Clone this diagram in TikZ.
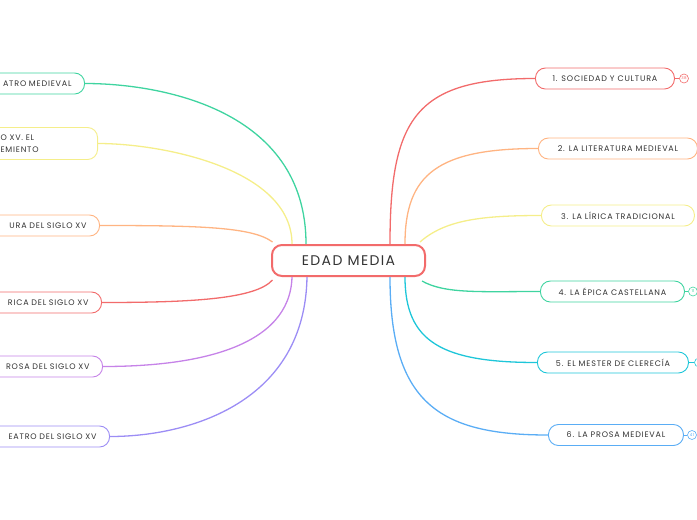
\documentclass[tikz,border=0pt]{standalone}
\usepackage{fontspec}
\setmainfont{Poppins}[LetterSpace=10]
\usetikzlibrary{positioning,calc}
\definecolor{ink}{HTML}{333333}
\definecolor{cred}{HTML}{F26B6B}
\definecolor{corange}{HTML}{FFB482}
\definecolor{cyellow}{HTML}{F5EE8A}
\definecolor{cgreen}{HTML}{3FD4A0}
\definecolor{ccyan}{HTML}{1EC6D9}
\definecolor{cblue}{HTML}{5AADF5}
\definecolor{cpurple}{HTML}{C683E8}
\definecolor{cviolet}{HTML}{9C8DF5}
\begin{document}
\begin{tikzpicture}[x=1pt,y=-1pt,font=\fontsize{8}{11.5}\selectfont,
box/.style={draw=#1,line width=0.9pt,rounded corners=10pt,fill=white,text=ink,minimum height=21pt,inner xsep=13pt},
rbox/.style={box=#1,anchor=west},
lbox/.style={box=#1,anchor=east,align=right},
link/.style={draw=#1,line width=1.3pt},
dot/.style={draw=#1,circle,line width=0.6pt,minimum size=9pt,inner sep=0pt,text=#1,font=\fontsize{4}{4}\selectfont}]
\useasboundingbox (0,0) rectangle (697,520);
% central topic
\node[box=cred,line width=2pt,minimum width=153pt,minimum height=31pt,font=\fontsize{14}{16}\selectfont] (root) at (348.5,260.5) {EDAD MEDIA};
% right branches
\node[rbox=cred,minimum width=139pt] (soc) at (535,78.5) {1. SOCIEDAD Y CULTURA};
\node[rbox=corange,minimum width=159pt] (lit) at (538,148.5) {2. LA LITERATURA MEDIEVAL};
\node[rbox=cyellow,minimum width=153pt] (lir) at (541,215.5) {3. LA LÍRICA TRADICIONAL};
\node[rbox=cgreen,minimum width=144pt] (epi) at (540,291.5) {4. LA ÉPICA CASTELLANA};
\node[rbox=ccyan,minimum width=151pt] (mes) at (537,362.5) {5. EL MESTER DE CLERECÍA};
\node[rbox=cblue,minimum width=135pt] (pro) at (548,435) {6. LA PROSA MEDIEVAL};
\node[dot=cred] (socn) at (684,78.5) {38};
\node[dot=cgreen] (epin) at (693,291.5) {11};
\node[dot=ccyan] (mesn) at (699,362.5) {};
\node[dot=cblue] (pron) at (692,435) {41};
\draw[cred,line width=0.6pt] (soc.east) -- (socn.west);
\draw[cgreen,line width=0.6pt] (epi.east) -- (epin.west);
\draw[ccyan,line width=0.6pt] (mes.east) -- (mesn.west);
\draw[cblue,line width=0.6pt] (pro.east) -- (pron.west);
% left branches
\node[lbox=cgreen,text width=85pt] (tea) at (85,83.5) {ATRO MEDIEVAL};
\node[lbox=cyellow,align=left,text width=84pt,minimum height=32pt] (pre) at (98,143.5) {O XV. EL\\EMIENTO};
\node[lbox=corange,text width=100pt] (lxv) at (100,225.5) {URA DEL SIGLO XV};
\node[lbox=cred,text width=102pt] (rxv) at (102,302.5) {RICA DEL SIGLO XV};
\node[lbox=cpurple,text width=103pt] (pxv) at (103,366.5) {ROSA DEL SIGLO XV};
\node[lbox=cviolet,text width=110pt] (txv) at (110,436.5) {EATRO DEL SIGLO XV};
% connectors
\draw[link=cred] ([xshift=41.5pt]root.north) .. controls +(0,-125) and +(-120,0) .. (soc.west);
\draw[link=corange] ([xshift=56.5pt]root.north) .. controls +(0,-70) and +(-100,0) .. (lit.west);
\draw[link=cyellow] ([xshift=71.5pt,yshift=2pt]root.north) .. controls +(25,-22) and +(-60,0) .. (lir.west);
\draw[link=cgreen] ([xshift=73.5pt,yshift=-4pt]root.south) .. controls +(23,13) and +(-60,0) .. (epi.west);
\draw[link=ccyan] ([xshift=56.5pt]root.south) .. controls +(0,65) and +(-95,0) .. (mes.west);
\draw[link=cblue] ([xshift=41.5pt]root.south) .. controls +(0,125) and +(-110,0) .. (pro.west);
\draw[link=cgreen] ([xshift=-42.5pt]root.north) .. controls +(0,-135) and +(75,0) .. (tea.east);
\draw[link=cyellow] ([xshift=-56.5pt]root.north) .. controls +(0,-75) and +(65,0) .. (pre.east);
\draw[link=corange] ([xshift=-76pt,yshift=2pt]root.north) .. controls +(-20,-15) and +(100,0) .. (lxv.east);
\draw[link=cred] ([xshift=-76pt,yshift=-3pt]root.south) .. controls +(-17,19) and +(90,0) .. (rxv.east);
\draw[link=cpurple] ([xshift=-56.5pt]root.south) .. controls +(-2,70) and +(95,0) .. (pxv.east);
\draw[link=cviolet] ([xshift=-41.5pt]root.south) .. controls +(-2,125) and +(80,0) .. (txv.east);
\end{tikzpicture}
\end{document}
